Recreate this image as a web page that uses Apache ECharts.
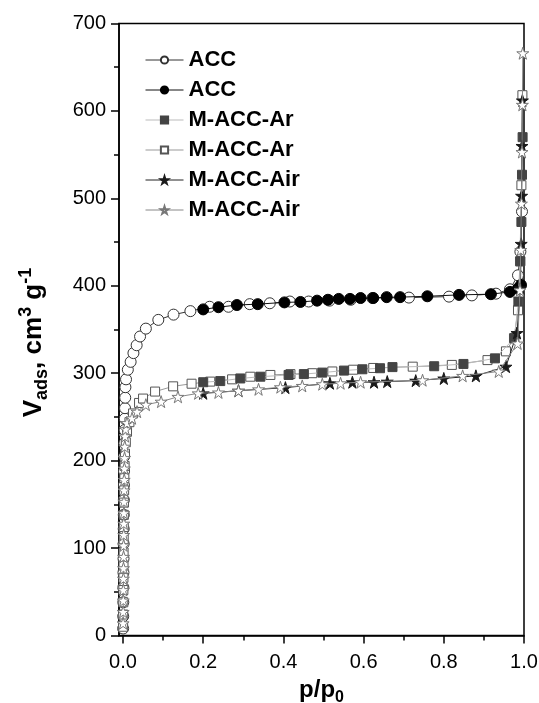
<!DOCTYPE html>
<html>
<head>
<meta charset="utf-8">
<script src="https://cdn.jsdelivr.net/npm/echarts@6/dist/echarts.min.js"></script>
<style>
html,body{margin:0;padding:0;background:#fff;}
#chart{width:539px;height:703px;}
</style>
</head>
<body>
<div id="chart"></div>
<script>
// ---- data (p/p0, V_ads) ----
const xTickLabels = [0, 0.2, 0.4, 0.6, 0.8, 1.0];
const xMinorTicks = [0.1, 0.3, 0.5, 0.7, 0.9];
const legendNames = ['ACC', 'ACC', 'M-ACC-Ar', 'M-ACC-Ar', 'M-ACC-Air', 'M-ACC-Air'];

const accAds = [[0.0003,8],[0.0005,22],[0.0007,38],[0.0009,55],[0.0011,72],[0.0013,88],[0.0015,105],[0.0017,122],[0.0019,138],[0.0021,155],[0.0023,172],[0.0026,188],[0.003,205],[0.0035,220],[0.004,235],[0.0045,248],[0.005,260],[0.0055,272],[0.006,284],[0.0075,293],[0.012,304],[0.019,313],[0.026,323],[0.034,332],[0.0425,342],[0.057,351],[0.088,361],[0.126,367],[0.168,371],[0.216,376],[0.263,376],[0.316,379],[0.366,380],[0.416,382],[0.463,382],[0.515,383],[0.568,384],[0.622,386],[0.713,386.5],[0.813,387.6],[0.87,389],[0.93,391],[0.965,396],[0.985,412],[0.991,439],[0.995,485]];
const accDes = [[0.2,373],[0.238,375.5],[0.284,378],[0.336,379],[0.4025,381],[0.4425,381.5],[0.484,383],[0.511,384],[0.538,385],[0.566,385],[0.5925,386],[0.624,386],[0.6575,387],[0.691,387],[0.759,388],[0.838,389.6],[0.9175,390.4],[0.965,393],[0.985,397],[0.9925,401]];
const arAds = [[0.0003,10],[0.0005,24],[0.0007,38],[0.0009,52],[0.0011,66],[0.0013,80],[0.0015,95],[0.0017,110],[0.0019,124],[0.0021,138],[0.0024,152],[0.0028,166],[0.0033,180],[0.004,194],[0.005,208],[0.007,221],[0.01,233],[0.016,244],[0.025,254],[0.04,266],[0.05,271],[0.08,279],[0.125,285],[0.171,288],[0.2175,290.4],[0.272,293],[0.3175,296],[0.3675,298],[0.4175,299],[0.472,300],[0.522,302],[0.574,304],[0.624,306],[0.7225,307.5],[0.82,309.5],[0.909,315],[0.955,325],[0.975,340],[0.985,372],[0.99,428],[0.9935,515],[0.996,618]];
const arDes = [[0.2,289.7],[0.2425,291],[0.2925,294],[0.3425,296],[0.413,298],[0.451,299],[0.497,300.7],[0.551,303],[0.597,304.5],[0.641,305.7],[0.672,307],[0.776,308],[0.849,310.6],[0.9275,317],[0.976,340],[0.986,382],[0.991,428],[0.9935,473],[0.995,527],[0.9965,570]];
const airAds = [[0.0002,14],[0.0004,27],[0.0006,40],[0.0008,52],[0.001,65],[0.0012,77],[0.0014,90],[0.0016,103],[0.0018,115],[0.002,128],[0.0022,140],[0.0024,153],[0.0027,166],[0.003,178],[0.0034,191],[0.0038,203],[0.0044,216],[0.0052,228],[0.0065,236],[0.01,243],[0.0225,248.5],[0.035,256],[0.057,264],[0.095,267.5],[0.137,273],[0.1875,277],[0.238,278],[0.288,280],[0.338,281.6],[0.3925,284],[0.447,285.5],[0.497,287.4],[0.5425,288.5],[0.5925,289.7],[0.747,292],[0.847,297],[0.937,302],[0.984,334],[0.99,395],[0.992,441],[0.9935,494],[0.995,553],[0.996,607],[0.997,666]];
const airDes = [[0.2,277],[0.288,280],[0.405,283.5],[0.516,288.5],[0.572,289.7],[0.626,289.7],[0.659,290.4],[0.73,291.5],[0.80,294],[0.88,297],[0.955,307.5],[0.9825,346],[0.991,397],[0.993,448],[0.994,503],[0.995,560],[0.996,612]];

const STAR = 'path://M50,0 L61.2,34.5 L97.6,34.5 L68.2,55.9 L79.4,90.5 L50,69.1 L20.6,90.5 L31.8,55.9 L2.4,34.5 L38.8,34.5 Z';
const FONT = '"Liberation Sans", Arial, sans-serif';

const chart = echarts.init(document.getElementById('chart'), null, {renderer: 'canvas'});

function mk(id, data, symbol, size, fill, border, lineColor, z) {
  return {
    id: id, name: id, type: 'line', data: data,
    symbol: symbol, symbolSize: size, showSymbol: true,
    itemStyle: {color: fill, borderColor: border, borderWidth: 1, opacity: 1},
    lineStyle: {color: lineColor, width: 1},
    emphasis: {disabled: true},
    z: z, animation: false, clip: false
  };
}

const seriesList = [
  mk('s0', accAds, 'circle', 11, '#ffffff', '#333333', '#333333', 2),
  mk('s1', accDes, 'circle', 11, '#000000', '#000000', '#111111', 3),
  mk('s3', arAds, 'rect', 9, '#ffffff', '#555555', '#999999', 4),
  mk('s2', arDes, 'rect', 9, '#444444', '#444444', '#bbbbbb', 5),
  mk('s4', airDes, STAR, 12, '#1a1a1a', '#1a1a1a', '#222222', 6),
  mk('s5', airAds, STAR, 12, '#ffffff', '#777777', '#888888', 7)
];
const legendMap = {s0: legendNames[0], s1: legendNames[1], s2: legendNames[2], s3: legendNames[3], s4: legendNames[4], s5: legendNames[5]};

chart.setOption({
  animation: false,
  backgroundColor: '#ffffff',
  grid: {left: 119, right: 15, top: 23.5, bottom: 67.5, show: true, borderColor: '#000', borderWidth: 1.5, backgroundColor: 'transparent', containLabel: false, outerBoundsMode: 'none'},
  legend: {
    data: ['s0', 's1', 's2', 's3', 's4', 's5'],
    orient: 'vertical', left: 140, top: 43,
    itemWidth: 38, itemHeight: 9, itemGap: 6,
    lineStyle: {width: 1},
    formatter: function (n) { return legendMap[n]; },
    textStyle: {fontFamily: FONT, fontSize: 22, fontWeight: 'bold', color: '#000', lineHeight: 24},
    selectedMode: false
  },
  xAxis: [{
    type: 'value', min: -0.01, max: 1.0, position: 'bottom',
    axisLine: {show: true, onZero: false, lineStyle: {color: '#000', width: 1.5}},
    axisTick: {show: true, customValues: xTickLabels, length: 8, lineStyle: {color: '#000', width: 1.5}},
    axisLabel: {show: true, customValues: xTickLabels, margin: 17, fontFamily: FONT, fontSize: 20, color: '#000',
      formatter: function (v) { return (+v).toFixed(1); }},
    splitLine: {show: false},
    name: '{m|p/p}{s|0}', nameLocation: 'middle', nameGap: 40,
    nameTextStyle: {rich: {
      m: {fontFamily: FONT, fontSize: 24, fontWeight: 'bold', color: '#000', lineHeight: 30, verticalAlign: 'middle'},
      s: {fontFamily: FONT, fontSize: 16, fontWeight: 'bold', color: '#000', lineHeight: 16, verticalAlign: 'bottom'}
    }}
  }, {
    type: 'value', min: -0.01, max: 1.0, position: 'bottom',
    axisLine: {show: false},
    axisTick: {show: true, customValues: xMinorTicks, length: 5, lineStyle: {color: '#000', width: 1.5}},
    axisLabel: {show: false},
    splitLine: {show: false}
  }],
  yAxis: [{
    type: 'value', min: 0, max: 700, interval: 100, position: 'left',
    axisLine: {show: true, onZero: false, lineStyle: {color: '#000', width: 1.5}},
    axisTick: {show: true, length: 8, lineStyle: {color: '#000', width: 1.5}},
    minorTick: {show: true, splitNumber: 2, length: 5, lineStyle: {color: '#000', width: 1.5}},
    axisLabel: {margin: 13, fontFamily: FONT, fontSize: 20, color: '#000'},
    splitLine: {show: false},
    name: '{m|V}{s|ads}{m|, cm}{p|3}{m| g}{p|-1}', nameLocation: 'middle', nameGap: 68, nameRotate: 90,
    nameTextStyle: {padding: [0, 26, 0, 0], rich: {
      m: {fontFamily: FONT, fontSize: 26, fontWeight: 'bold', color: '#000', lineHeight: 34, verticalAlign: 'middle'},
      s: {fontFamily: FONT, fontSize: 18, fontWeight: 'bold', color: '#000', lineHeight: 18, verticalAlign: 'bottom'},
      p: {fontFamily: FONT, fontSize: 18, fontWeight: 'bold', color: '#000', lineHeight: 18, verticalAlign: 'top'}
    }}
  }],
  series: seriesList
});
</script>
</body>
</html>
